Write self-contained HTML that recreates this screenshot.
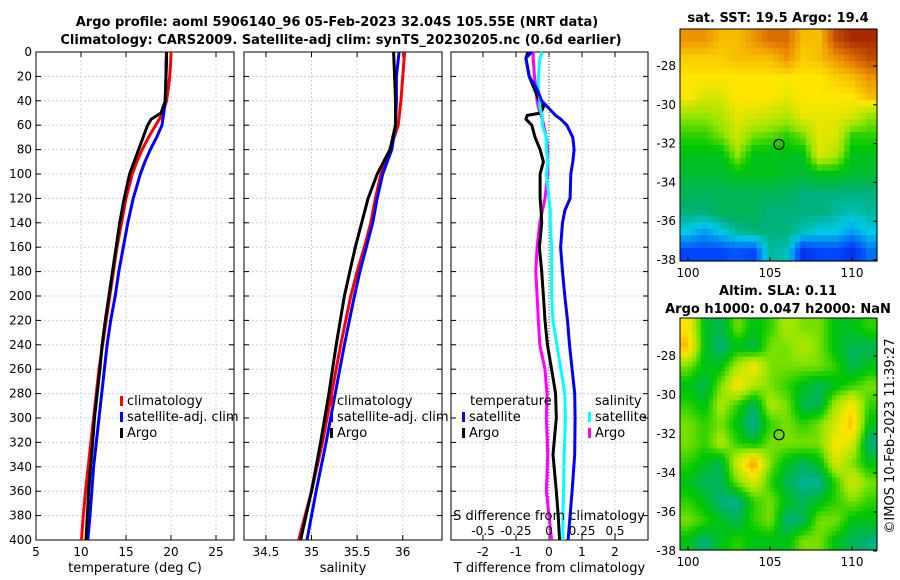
<!DOCTYPE html>
<html><head><meta charset="utf-8"><style>
body{margin:0;background:#fff}
svg{display:block;font-family:"DejaVu Sans","Liberation Sans",sans-serif}
</style></head><body>
<svg id="c" width="900" height="580" viewBox="0 0 900 580">
<g font-weight="bold" font-size="13" text-anchor="middle">
<text x="337" y="26">Argo profile: aoml 5906140_96 05-Feb-2023 32.04S 105.55E (NRT data)</text>
<text x="341" y="44">Climatology: CARS2009. Satellite-adj clim: synTS_20230205.nc (0.6d earlier)</text>
<text x="778" y="22">sat. SST: 19.5 Argo: 19.4</text>
<text x="778" y="295">Altim. SLA: 0.11</text>
<text x="778" y="313">Argo h1000: 0.047 h2000: NaN</text>
</g>
<text transform="translate(894,436) rotate(-90)" text-anchor="middle" font-size="13">©IMOS 10-Feb-2023 11:39:27</text>
<g id="g"></g>
</svg>
<script>
// ---------- data ----------
const depthT = [0,10,20,30,40,50,55,60,70,80,90,100,120,140,160,180,200,220,240,260,280,300,320,340,360,380,400];
const tempClim = [20.0,19.95,19.85,19.7,19.5,19.1,18.7,18.3,17.5,16.8,16.2,15.7,15.0,14.5,14.0,13.6,13.2,12.8,12.4,12.0,11.7,11.4,11.1,10.8,10.5,10.25,10.05];
const tempSat = [19.5,19.45,19.45,19.4,19.35,19.2,19.1,19.0,18.4,17.7,17.1,16.6,15.8,15.2,14.7,14.2,13.8,13.3,12.9,12.6,12.3,12.0,11.7,11.4,11.2,11.0,10.75];
const tempArgo = [19.5,19.5,19.45,19.4,19.35,18.9,17.8,17.4,16.9,16.4,15.9,15.4,14.8,14.3,13.9,13.5,13.1,12.7,12.35,12.1,11.8,11.5,11.3,11.05,10.85,10.7,10.55];
const depthS = [0,20,40,60,80,100,120,140,160,180,200,240,280,320,360,400];
const salClim = [36.02,36.0,35.98,35.95,35.86,35.76,35.7,35.65,35.58,35.5,35.43,35.32,35.22,35.12,35.0,34.86];
const salSat = [35.96,35.93,35.93,35.92,35.88,35.78,35.72,35.67,35.6,35.53,35.47,35.36,35.26,35.16,35.05,34.95];
const salArgo = [35.9,35.91,35.92,35.92,35.86,35.72,35.62,35.55,35.48,35.42,35.36,35.27,35.19,35.1,35.0,34.88];
const depthD = [0,5,20,30,40,45,50,52,55,60,70,80,90,100,120,130,140,160,180,200,220,240,260,280,300,330,360,380,400];
const tDiffSat = [-0.52,-0.7,-0.6,-0.37,-0.22,-0.05,0.13,0.2,0.35,0.54,0.72,0.76,0.72,0.66,0.64,0.48,0.41,0.35,0.41,0.48,0.56,0.62,0.7,0.78,0.79,0.78,0.7,0.64,0.58];
const tDiffArgo = [-0.63,-0.7,-0.6,-0.45,-0.3,-0.17,-0.25,-0.66,-0.7,-0.52,-0.42,-0.27,-0.17,-0.27,-0.27,-0.24,-0.22,-0.29,-0.22,-0.17,-0.12,-0.05,0.08,0.2,0.22,0.12,0.22,0.28,0.32];
const sDiffSat = [-0.05,-0.07,-0.08,-0.08,-0.07,-0.07,-0.06,-0.05,-0.05,-0.05,-0.02,-0.02,-0.01,-0.02,0.0,0.01,0.01,0.02,0.02,0.02,0.03,0.06,0.09,0.12,0.125,0.115,0.11,0.105,0.105];
const sDiffArgo = [-0.12,-0.12,-0.11,-0.1,-0.09,-0.08,-0.07,-0.06,-0.05,-0.04,-0.02,-0.01,-0.01,-0.01,-0.03,-0.05,-0.07,-0.09,-0.1,-0.09,-0.08,-0.07,-0.03,-0.015,-0.02,-0.01,-0.02,0.0,0.02];
const depthTicks = [0,20,40,60,80,100,120,140,160,180,200,220,240,260,280,300,320,340,360,380,400];
const tempTicks = [5,10,15,20,25];
const salTicks = [34.5,35,35.5,36];
const salTickLabels = ["34.5","35","35.5","36"];
const tdTicks = [-2,-1,0,1,2];
const sdTicks = [-0.5,-0.25,0,0.25,0.5];
const sdTickLabels = ["-0.5","-0.25","0","0.25","0.5"];
const lonTicks = [100,105,110];
const latTicks = [-28,-30,-32,-34,-36,-38];
const argoLon = 105.55, argoLat = -32.04;
const sstGrid = [
[.85,.85,.8,.8,.85,.9,.9,.8,.8,.95,1,1],
[.78,.78,.78,.8,.8,.8,.85,.78,.8,.85,.9,.95],
[.75,.75,.75,.75,.75,.75,.75,.75,.75,.78,.8,.85],
[.75,.7,.7,.75,.75,.75,.72,.75,.75,.75,.75,.8],
[.62,.62,.65,.72,.7,.68,.65,.72,.72,.72,.7,.62],
[.55,.55,.6,.68,.6,.58,.55,.6,.72,.7,.55,.55],
[.5,.5,.5,.62,.5,.5,.5,.5,.7,.65,.5,.5],
[.48,.48,.48,.5,.5,.5,.48,.48,.5,.5,.48,.48],
[.45,.45,.45,.45,.45,.45,.45,.42,.42,.42,.42,.42],
[.42,.42,.45,.45,.45,.42,.42,.42,.42,.4,.38,.4],
[.35,.3,.35,.4,.42,.42,.42,.38,.35,.35,.3,.35],
[.2,.2,.2,.22,.2,.4,.38,.15,.2,.2,.15,.25]];
const slaGrid = [
[.75,.5,.45,.6,.5,.55,.65,.6,.6,.5,.5,.55],
[.8,.5,.42,.5,.45,.6,.6,.65,.6,.5,.45,.45],
[.6,.5,.5,.65,.75,.6,.6,.6,.6,.55,.45,.5],
[.5,.45,.6,.75,.65,.6,.55,.5,.45,.5,.55,.6],
[.55,.5,.65,.55,.44,.65,.6,.45,.45,.65,.75,.55],
[.6,.55,.6,.5,.4,.55,.6,.55,.6,.7,.8,.5],
[.6,.55,.65,.55,.5,.6,.6,.6,.6,.75,.7,.42],
[.55,.5,.45,.7,.85,.6,.5,.45,.5,.7,.6,.5],
[.5,.44,.45,.6,.7,.55,.45,.4,.4,.55,.7,.6],
[.55,.5,.42,.4,.55,.6,.5,.45,.5,.55,.6,.55],
[.6,.55,.5,.45,.55,.6,.42,.45,.6,.6,.5,.5],
[.5,.42,.5,.55,.5,.5,.5,.6,.6,.5,.45,.42]];

// ---------- drawing ----------
const NS="http://www.w3.org/2000/svg";
const root=document.getElementById('g');
function mk(tag,attrs,parent){const e=document.createElementNS(NS,tag);for(const k in attrs)e.setAttribute(k,attrs[k]);(parent||root).appendChild(e);return e;}
const Y0=52,Y1=540;
const yD=d=>Y0+(d/400)*(Y1-Y0);
function panel(name,x0,x1,xmin,xmax,ticks,labels,showY,xtitle){
  const g=mk('g',{});
  
  
  const xs=v=>x0+(v-xmin)/(xmax-xmin)*(x1-x0);
  ticks.forEach((t,i)=>{
    const l=mk('line',{x1:xs(t),x2:xs(t),y1:Y0,y2:Y1,stroke:'#c8d0ec','stroke-dasharray':'2,2','stroke-width':1},g);
    
    
    mk('line',{x1:xs(t),x2:xs(t),y1:Y1,y2:Y1-5,stroke:'#000'},g);
    mk('line',{x1:xs(t),x2:xs(t),y1:Y0,y2:Y0+5,stroke:'#000'},g);
    const tx=mk('text',{x:xs(t),y:Y1+16,'text-anchor':'middle','font-size':12},g);
    tx.textContent=labels[i];
    
    
  });
  depthTicks.forEach(d=>{
    const l=mk('line',{x1:x0,x2:x1,y1:yD(d),y2:yD(d),stroke:'#c8d0ec','stroke-dasharray':'2,2'},g);
    
    
    mk('line',{x1:x0,x2:x0+5,y1:yD(d),y2:yD(d),stroke:'#000'},g);
    mk('line',{x1:x1,x2:x1-5,y1:yD(d),y2:yD(d),stroke:'#000'},g);
    if(showY){const tx=mk('text',{x:x0-4,y:yD(d)+4,'text-anchor':'end','font-size':12},g);tx.textContent=d;
      
      }
  });
  const f=mk('rect',{x:x0,y:Y0,width:x1-x0,height:Y1-Y0,fill:'none',stroke:'#000'},g);
  
  
  const t=mk('text',{x:(x0+x1)/2,y:572,'text-anchor':'middle','font-size':13},g);
  t.textContent=xtitle;
  
  
  return {g,xs};
}
function line(p,vals,depths,color,name,scale){
  const pts=vals.map((v,i)=>p.xs(v*(scale||1)).toFixed(1)+','+yD(depths[i]).toFixed(1)).join(' ');
  const l=mk('polyline',{points:pts,fill:'none',stroke:color,'stroke-width':3,'stroke-linejoin':'round'},p.g);
  
  
}
function legend(g,x,y,color,label,name){
  const m=mk('rect',{x:x,y:y-9,width:3,height:10,fill:color},g);
  const t=mk('text',{x:x+7,y:y,'font-size':13},g);t.textContent=label;
  
  
}
// panel 1
const p1=panel('temperature-panel',36,234,5,27,tempTicks,tempTicks.map(String),true,'temperature (deg C)');
line(p1,tempClim,depthT,'#f00','climatology-temp-line');
line(p1,tempSat,depthT,'#00f','satellite-temp-line');
line(p1,tempArgo,depthT,'#000','argo-temp-line');
legend(p1.g,120,405,'#f00','climatology','legend-climatology');
legend(p1.g,120,421,'#00f','satellite-adj. clim','legend-satellite');
legend(p1.g,120,437,'#000','Argo','legend-argo');
// panel 2
const p2=panel('salinity-panel',244,442,34.26,36.43,salTicks,salTickLabels,false,'salinity');
line(p2,salClim,depthS,'#f00','climatology-sal-line');
line(p2,salSat,depthS,'#00f','satellite-sal-line');
line(p2,salArgo,depthS,'#000','argo-sal-line');
legend(p2.g,330,405,'#f00','climatology','legend-climatology-s');
legend(p2.g,330,421,'#00f','satellite-adj. clim','legend-satellite-s');
legend(p2.g,330,437,'#000','Argo','legend-argo-s');
// panel 3
const p3=panel('difference-panel',451,648,-2.97,3.0,tdTicks,tdTicks.map(String),false,'T difference from climatology');
const z=mk('line',{x1:p3.xs(0),x2:p3.xs(0),y1:Y0,y2:Y1,stroke:'#555','stroke-dasharray':'1,2'},p3.g);


line(p3,sDiffArgo,depthD,'#f0f','argo-sal-diff-line',4);
line(p3,tDiffArgo,depthD,'#000','argo-temp-diff-line');
line(p3,sDiffSat,depthD,'#0ff','satellite-sal-diff-line',4);
line(p3,tDiffSat,depthD,'#00f','satellite-temp-diff-line');
{const t=mk('text',{x:470,y:405,'font-size':13},p3.g);t.textContent='temperature';


const s=mk('text',{x:595,y:405,'font-size':13},p3.g);s.textContent='salinity';

}
legend(p3.g,462,421,'#00f','satellite','legend-temp-satellite');
legend(p3.g,462,437,'#000','Argo','legend-temp-argo');
legend(p3.g,588,421,'#0ff','satellite','legend-sal-satellite');
legend(p3.g,588,437,'#f0f','Argo','legend-sal-argo');
{const t=mk('text',{x:549,y:520,'text-anchor':'middle','font-size':13},p3.g);t.textContent='S difference from climatology';


sdTicks.forEach((v,i)=>{const tx=mk('text',{x:p3.xs(v*4),y:535,'text-anchor':'middle','font-size':12},p3.g);tx.textContent=sdTickLabels[i];

});}

// maps
const stops=[[0,[0,0,150]],[0.2,[0,70,255]],[0.35,[0,200,230]],[0.43,[0,175,110]],[0.52,[0,200,0]],[0.62,[150,230,0]],[0.75,[255,230,0]],[0.86,[235,140,0]],[1,[170,40,0]]];
function cmap(v){for(let i=1;i<stops.length;i++){if(v<=stops[i][0]){const a=stops[i-1],b=stops[i],t=(v-a[0])/(b[0]-a[0]);return 'rgb('+a[1].map((c,k)=>Math.round(c+(b[1][k]-c)*t)).join(',')+')';}}return 'rgb(170,40,0)';}
function sample(grid,u,v){ // bilinear, u,v in cell units (centers at i+0.5)
  const R=grid.length,C=grid[0].length;
  let x=u-0.5,y=v-0.5;x=Math.max(0,Math.min(C-1,x));y=Math.max(0,Math.min(R-1,y));
  const i0=Math.floor(y),j0=Math.floor(x),i1=Math.min(R-1,i0+1),j1=Math.min(C-1,j0+1),fy=y-i0,fx=x-j0;
  return grid[i0][j0]*(1-fx)*(1-fy)+grid[i0][j1]*fx*(1-fy)+grid[i1][j0]*(1-fx)*fy+grid[i1][j1]*fx*fy;
}
function map(name,grid,x0,y0,x1,y1,lat28y,lat38y,sub){
  const g=mk('g',{});
  
  
  const lonx=v=>688+(v-100)*16.4;
  const laty=v=>lat28y+(-28-v)/10*(lat38y-lat28y);
  const R=grid.length,C=grid[0].length,cw=(x1-x0)/C/sub,ch=(y1-y0)/R/sub;
  for(let r=0;r<R*sub;r++)for(let c=0;c<C*sub;c++){
    const v=sample(grid,(c+0.5)/sub,(r+0.5)/sub);
    const cell=mk('rect',{x:(x0+c*cw).toFixed(2),y:(y0+r*ch).toFixed(2),width:(cw+0.6).toFixed(2),height:(ch+0.6).toFixed(2),fill:cmap(v)},g);
    
    
  }
  const f=mk('rect',{x:x0,y:y0,width:x1-x0,height:y1-y0,fill:'none',stroke:'#000'},g);
  
  
  lonTicks.forEach(v=>{mk('line',{x1:lonx(v),x2:lonx(v),y1:y1,y2:y1-4,stroke:'#000'},g);
    const t=mk('text',{x:lonx(v),y:y1+16,'text-anchor':'middle','font-size':12},g);t.textContent=v;
    
    });
  latTicks.forEach(v=>{mk('line',{x1:x1,x2:x1-4,y1:laty(v),y2:laty(v),stroke:'#000'},g);
    const t=mk('text',{x:x0-4,y:laty(v)+4,'text-anchor':'end','font-size':12},g);t.textContent=v;
    
    });
  const m=mk('circle',{cx:lonx(argoLon),cy:laty(argoLat),r:5,fill:'none',stroke:'#000','stroke-width':1.2},g);
  
  
}
map('sst-map',sstGrid,680,29,877,261,66,260,3);
map('sla-map',slaGrid,680,318,877,550,356,551,4);
</script>
</body></html>
